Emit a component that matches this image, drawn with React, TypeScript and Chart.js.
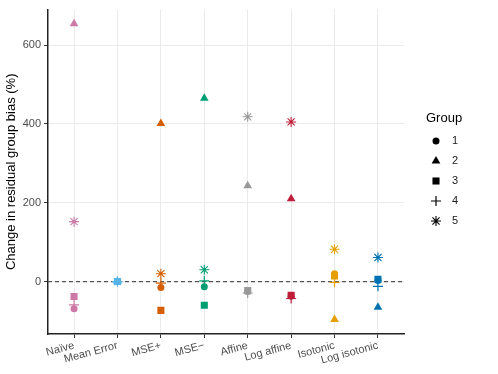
import React, { useEffect, useRef } from 'react';
import { Chart, registerables } from 'chart.js';
import { drawPoint } from 'chart.js/helpers';

Chart.register(...registerables);

const FONT = '"Liberation Sans", Arial, Helvetica, sans-serif';

const categories = ['Naïve', 'Mean Error', 'MSE+', 'MSE\u2212', 'Affine', 'Log affine', 'Isotonic', 'Log isotonic'];
const categoryColors = ['#CC79A7', '#56B4E9', '#D55E00', '#009E73', '#999999', '#BF1E3A', '#E69F00', '#0072B2'];

const groupLabels = ['1', '2', '3', '4', '5'];
const group1 = [-69, 0, -15, -13, -25, -37, 20, 3];
const group2 = [654, 0, 401, 465, 243, 210, -96, -65];
const group3 = [-38, 0, -73, -60, -23, -35, 14, 6];
const group4 = [-59, 0, -4, 2, -29, -43, -2, -12];
const group5 = [152, 0, 20, 30, 418, 405, 82, 61];

const yTicks = [0, 200, 400, 600];
const refLine = 0;

const shapes = ['circle', 'triangle', 'rect', 'cross', 'star'];
const radii = [3.5, 5, 5, 5, 5];
const borderWidths = [0, 0, 0, 1.2, 1.1];

const legendPlugin = {
  id: 'groupLegend',
  afterDraw(chart: any) {
    const ctx = chart.ctx;
    ctx.save();
    ctx.fillStyle = '#000';
    ctx.strokeStyle = '#000';
    ctx.textBaseline = 'middle';
    ctx.textAlign = 'left';
    ctx.font = `13px ${FONT}`;
    ctx.fillText('Group', 426, 118);
    ctx.font = `11px ${FONT}`;
    groupLabels.forEach((lab, i) => {
      const y = 141 + 20 * i;
      ctx.fillStyle = '#000';
      ctx.strokeStyle = '#000';
      ctx.lineWidth = borderWidths[i];
      drawPoint(ctx, { pointStyle: shapes[i], radius: radii[i], borderWidth: borderWidths[i], rotation: 0 } as any, 436, y);
      ctx.fillStyle = '#1a1a1a';
      ctx.fillText(lab, 452, y);
    });
    ctx.restore();
  },
};

export default function App() {
  const ref = useRef<HTMLCanvasElement>(null);
  useEffect(() => {
    const groups = [group1, group2, group3, group4, group5];
    const datasets: any[] = groups.map((vals, g) => ({
      type: 'scatter',
      label: groupLabels[g],
      data: vals.map((v, i) => ({ x: i + 1, y: v })),
      pointStyle: shapes[g],
      pointRadius: radii[g],
      pointHoverRadius: radii[g],
      pointBackgroundColor: categoryColors,
      pointBorderColor: categoryColors,
      pointBorderWidth: borderWidths[g],
      showLine: false,
      order: 1,
    }));
    datasets.push({
      type: 'line',
      label: 'ref',
      data: [{ x: 0.4, y: refLine }, { x: 8.6, y: refLine }],
      borderColor: '#555555',
      borderWidth: 1.1,
      borderDash: [4, 3],
      pointRadius: 0,
      fill: false,
      order: 2,
    });
    const chart = new Chart(ref.current as HTMLCanvasElement, {
      type: 'scatter',
      data: { datasets },
      options: {
        responsive: false,
        animation: false,
        events: [],
        layout: { padding: { top: 7, right: 94, left: 0, bottom: 0 } },
        plugins: { legend: { display: false }, tooltip: { enabled: false } },
        scales: {
          x: {
            type: 'linear',
            min: 0.4,
            max: 8.6,
            afterBuildTicks: (s: any) => {
              s.ticks = categories.map((_, i) => ({ value: i + 1 }));
            },
            afterFit: (s: any) => {
              s.height = 40;
            },
            ticks: {
              autoSkip: false,
              minRotation: 15,
              maxRotation: 15,
              padding: 1,
              color: '#4D4D4D',
              font: { family: FONT, size: 11 },
              callback: (v: any) => categories[Math.round(Number(v)) - 1] ?? '',
            },
            grid: { color: '#EBEBEB', lineWidth: 1, tickColor: '#333333', tickLength: 4, tickWidth: 1 },
            border: { display: true, color: '#222222', width: 1.5 },
          },
          y: {
            type: 'linear',
            min: -133,
            max: 690,
            afterBuildTicks: (s: any) => {
              s.ticks = yTicks.map((v) => ({ value: v }));
            },
            afterFit: (s: any) => {
              s.width = 48;
            },
            ticks: {
              padding: 3,
              color: '#4D4D4D',
              font: { family: FONT, size: 11 },
            },
            grid: { color: '#EBEBEB', lineWidth: 1, tickColor: '#333333', tickLength: 4, tickWidth: 1 },
            border: { display: true, color: '#222222', width: 1.5 },
            title: {
              display: true,
              text: 'Change in residual group bias (%)',
              color: '#000',
              font: { family: FONT, size: 13 },
              padding: { top: 4, bottom: 0 },
            },
          },
        },
      } as any,
      plugins: [legendPlugin],
    });
    return () => chart.destroy();
  }, []);
  return (
    <div style={{ position: 'absolute', left: 0, top: 0, width: 498, height: 374, background: '#fff' }}>
      <canvas ref={ref} width={498} height={374} style={{ display: 'block' }} />
    </div>
  );
}
